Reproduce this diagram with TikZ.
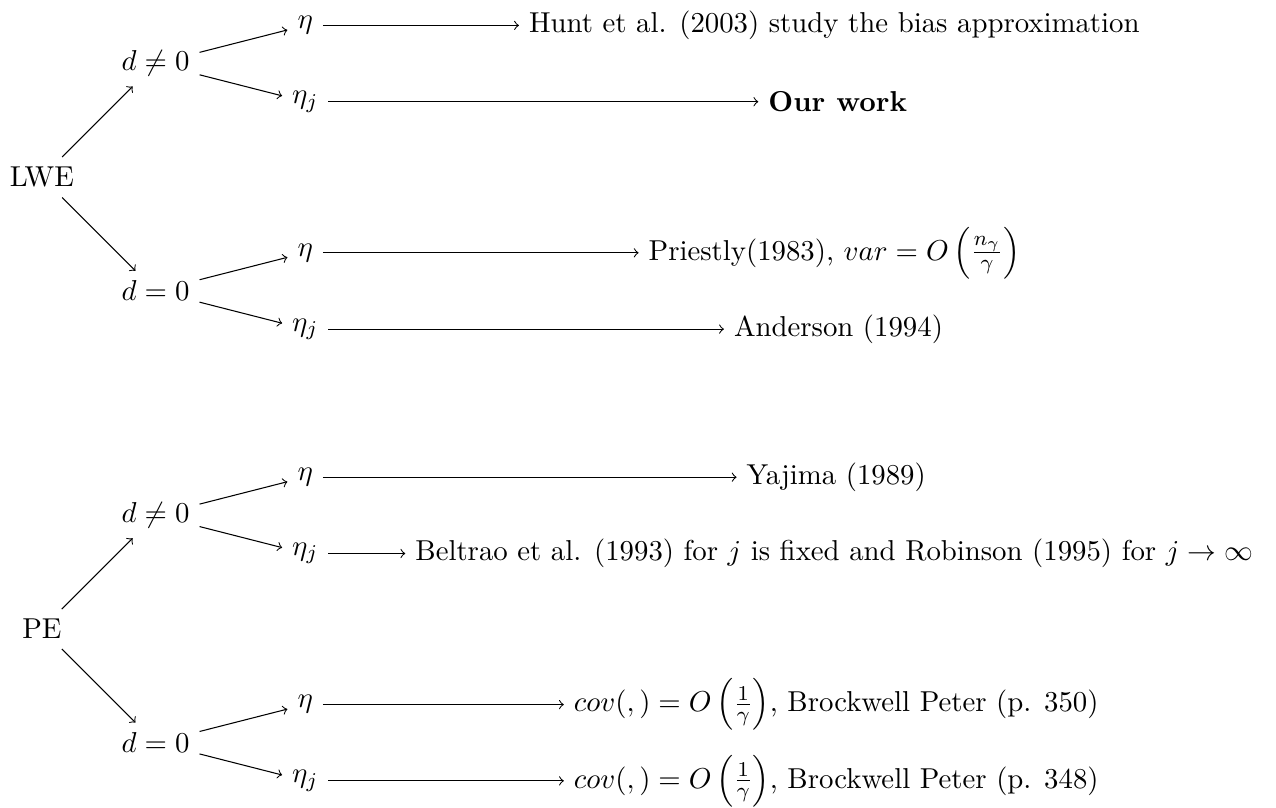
\documentclass[11pt,tikz,border=0pt]{standalone}
\usepackage{amsmath}
\usetikzlibrary{positioning}

\begin{document}
\begin{tikzpicture}[
  grd/.style={on grid},
  arr/.style={->},
]
  \useasboundingbox (-0.56,2.37) rectangle (16.5,-8.43);

  % Nodes (LWE)
  \node (lwe) {LWE};
  \node[grd, above right=1.52cm and 1.52cm of lwe] (l1) {$d \neq 0$};
  \node[grd, below right=1.52cm and 1.52cm of lwe] (l2) {$d = 0$};
  \node[grd, above right=0.51cm and 2cm of l1] (l1a) {$\eta$};
  \node[grd, below right=0.51cm and 2cm of l1] (l1b) {$\eta_j$};
  \node[grd, above right=0.51cm and 2cm of l2] (l2a) {$\eta$};
  \node[grd, below right=0.51cm and 2cm of l2] (l2b) {$\eta_j$};
  \node[right=2.62cm of l1a] (t1) {Hunt et al. (2003) study the bias approximation};
  \node[right=5.75cm of l1b] (t2) {\textbf{Our work}};
  \node[right=4.22cm of l2a] (t3) {Priestly(1983), $var = O\left(\frac{n_\gamma}{\gamma}\right)$};
  \node[right=5.29cm of l2b] (t4) {Anderson (1994)};

  % Nodes (PE)
  \node[grd, below=6.04cm of lwe] (pe) {PE};
  \node[grd, above right=1.52cm and 1.52cm of pe] (p1) {$d \neq 0$};
  \node[grd, below right=1.52cm and 1.52cm of pe] (p2) {$d = 0$};
  \node[grd, above right=0.51cm and 2cm of p1] (p1a) {$\eta$};
  \node[grd, below right=0.51cm and 2cm of p1] (p1b) {$\eta_j$};
  \node[grd, above right=0.51cm and 2cm of p2] (p2a) {$\eta$};
  \node[grd, below right=0.51cm and 2cm of p2] (p2b) {$\eta_j$};
  \node[right=5.53cm of p1a] (t5) {Yajima (1989)};
  \node[right=1.03cm of p1b] (t6) {Beltrao et al. (1993) for $j$ is fixed and Robinson (1995) for $j \to \infty$};
  \node[right=3.22cm of p2a] (t7) {$cov(,) = O\left(\frac{1}{\gamma}\right)$, Brockwell Peter (p. 350)};
  \node[right=3.15cm of p2b] (t8) {$cov(,) = O\left(\frac{1}{\gamma}\right)$, Brockwell Peter (p. 348)};

  % Branch edges
  \foreach \a/\b in {lwe/l, pe/p} {
    \draw[arr] (\a) -- (\b1);
    \draw[arr] (\a) -- (\b2);
    \draw[arr] (\b1) -- (\b1a);
    \draw[arr] (\b1) -- (\b1b);
    \draw[arr] (\b2) -- (\b2a);
    \draw[arr] (\b2) -- (\b2b);
  }

  % Edges to references
  \draw[arr] (l1a) -- (t1);
  \draw[arr] (l1b) -- (t2);
  \draw[arr] (l2a) -- (t3);
  \draw[arr] (l2b) -- (t4);
  \draw[arr] (p1a) -- (t5);
  \draw[arr] (p1b) -- (t6);
  \draw[arr] (p2a) -- (t7);
  \draw[arr] (p2b) -- (t8);
\end{tikzpicture}
\end{document}
